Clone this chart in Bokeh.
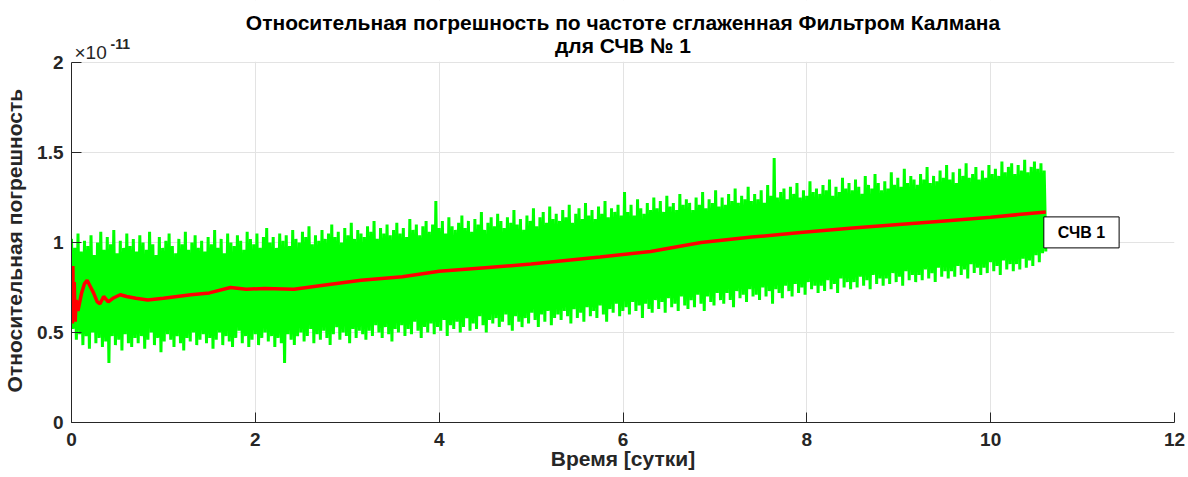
import numpy as np
from bokeh.plotting import figure
from bokeh.models import Range1d, FixedTicker, Label, BoxAnnotation
from bokeh.embed import file_html
from bokeh.resources import INLINE

# Raw relative frequency error (units of 1e-11): upper and lower swings of the measured signal
hi = [
    1.02, 0.97, 1.05, 0.95, 1.01, 0.98, 1.04, 0.93, 1.00, 1.06,
    0.96, 1.03, 0.99, 1.07, 0.94, 1.01, 0.97, 1.05, 0.98, 1.02,
    0.95, 1.04, 1.00, 0.96, 1.06, 0.99, 0.93, 1.03, 0.97, 1.01,
    1.05, 0.98, 0.94, 1.02, 0.99, 1.06, 0.96, 1.00, 1.04, 0.97,
    1.01, 0.95, 1.03, 0.99, 1.07, 0.97, 1.02, 0.94, 1.05, 1.00,
    0.98, 1.04, 1.01, 0.96, 1.06, 1.02, 0.99, 1.05, 0.97, 1.03,
    1.08, 1.00, 1.03, 0.97, 1.05, 1.01, 1.04, 0.98, 1.07, 1.02,
    1.00, 1.06, 1.03, 1.09, 0.99, 1.04, 1.01, 1.07, 1.02, 1.05,
    1.10, 1.03, 1.06, 1.00, 1.08, 1.04, 1.11, 1.02, 1.07, 1.05,
    1.03, 1.09, 1.06, 1.12, 1.02, 1.08, 1.05, 1.10, 1.04, 1.07,
    1.11, 1.05, 1.08, 1.03, 1.13, 1.07, 1.10, 1.04, 1.09, 1.12,
    1.06, 1.10, 1.23, 1.08, 1.12, 1.05, 1.14, 1.09, 1.07, 1.11,
    1.15, 1.08, 1.12, 1.06, 1.13, 1.10, 1.17, 1.07, 1.11, 1.14,
    1.09, 1.16, 1.12, 1.08, 1.14, 1.11, 1.18, 1.10, 1.13, 1.07,
    1.15, 1.12, 1.19, 1.09, 1.14, 1.17, 1.11, 1.20, 1.13, 1.16,
    1.12, 1.18, 1.14, 1.21, 1.11, 1.16, 1.19, 1.13, 1.22, 1.15,
    1.18, 1.13, 1.20, 1.16, 1.23, 1.14, 1.19, 1.17, 1.21, 1.15,
    1.28, 1.17, 1.21, 1.15, 1.24, 1.19, 1.16, 1.22, 1.18, 1.25,
    1.19, 1.23, 1.17, 1.26, 1.20, 1.22, 1.18, 1.27, 1.21, 1.24,
    1.22, 1.18, 1.25, 1.21, 1.28, 1.19, 1.24, 1.22, 1.29, 1.20,
    1.25, 1.21, 1.27, 1.23, 1.30, 1.22, 1.26, 1.24, 1.31, 1.23,
    1.27, 1.24, 1.29, 1.22, 1.32, 1.26, 1.47, 1.25, 1.28, 1.30,
    1.24, 1.31, 1.27, 1.33, 1.25, 1.29, 1.26, 1.34, 1.28, 1.30,
    1.27, 1.32, 1.29, 1.35, 1.26, 1.31, 1.28, 1.36, 1.30, 1.33,
    1.29, 1.35, 1.31, 1.27, 1.37, 1.32, 1.30, 1.38, 1.33, 1.29,
    1.34, 1.30, 1.39, 1.32, 1.36, 1.31, 1.41, 1.33, 1.37, 1.35,
    1.32, 1.38, 1.35, 1.42, 1.33, 1.37, 1.34, 1.40, 1.36, 1.43,
    1.35, 1.39, 1.33, 1.41, 1.37, 1.44, 1.36, 1.38, 1.42, 1.35,
    1.40, 1.36, 1.43, 1.38, 1.41, 1.37, 1.45, 1.39, 1.42, 1.44,
    1.38, 1.43, 1.40, 1.46, 1.39, 1.42, 1.45, 1.41, 1.44, 1.40,
]
lo = [
    0.52, 0.46, 0.49, 0.43, 0.48, 0.41, 0.50, 0.44, 0.47, 0.42,
    0.45, 0.33, 0.48, 0.43, 0.46, 0.40, 0.49, 0.44, 0.42, 0.47,
    0.44, 0.48, 0.41, 0.46, 0.50, 0.43, 0.47, 0.39, 0.45, 0.49,
    0.46, 0.42, 0.48, 0.44, 0.40, 0.47, 0.45, 0.50, 0.43, 0.46,
    0.49, 0.44, 0.47, 0.41, 0.46, 0.50, 0.43, 0.48, 0.45, 0.42,
    0.47, 0.51, 0.44, 0.48, 0.42, 0.46, 0.49, 0.43, 0.47, 0.50,
    0.45, 0.48, 0.42, 0.47, 0.44, 0.33, 0.49, 0.46, 0.43, 0.48,
    0.50, 0.45, 0.48, 0.52, 0.44, 0.49, 0.46, 0.51, 0.47, 0.43,
    0.49, 0.53, 0.46, 0.50, 0.48, 0.44, 0.52, 0.47, 0.51, 0.49,
    0.46, 0.51, 0.48, 0.54, 0.50, 0.47, 0.53, 0.49, 0.45, 0.52,
    0.50, 0.54, 0.48, 0.52, 0.49, 0.56, 0.51, 0.47, 0.53, 0.50,
    0.55, 0.49, 0.53, 0.51, 0.57, 0.48, 0.54, 0.52, 0.56, 0.50,
    0.53, 0.58, 0.51, 0.55, 0.52, 0.59, 0.54, 0.50, 0.57, 0.55,
    0.58, 0.53, 0.56, 0.60, 0.54, 0.51, 0.59, 0.56, 0.53, 0.58,
    0.55, 0.61, 0.57, 0.53, 0.60, 0.56, 0.62, 0.54, 0.58, 0.60,
    0.57, 0.62, 0.59, 0.55, 0.63, 0.58, 0.61, 0.56, 0.64, 0.59,
    0.62, 0.58, 0.65, 0.60, 0.56, 0.63, 0.61, 0.66, 0.59, 0.62,
    0.64, 0.60, 0.67, 0.62, 0.65, 0.58, 0.66, 0.63, 0.61, 0.68,
    0.63, 0.67, 0.61, 0.69, 0.64, 0.66, 0.62, 0.70, 0.65, 0.63,
    0.68, 0.64, 0.71, 0.66, 0.62, 0.70, 0.67, 0.65, 0.72, 0.68,
    0.66, 0.72, 0.68, 0.64, 0.73, 0.69, 0.71, 0.67, 0.74, 0.70,
    0.71, 0.68, 0.75, 0.70, 0.73, 0.66, 0.74, 0.72, 0.69, 0.76,
    0.73, 0.70, 0.77, 0.72, 0.75, 0.71, 0.78, 0.74, 0.76, 0.72,
    0.76, 0.73, 0.79, 0.74, 0.77, 0.72, 0.80, 0.75, 0.78, 0.74,
    0.78, 0.75, 0.81, 0.76, 0.79, 0.74, 0.82, 0.77, 0.80, 0.76,
    0.80, 0.77, 0.83, 0.78, 0.81, 0.76, 0.84, 0.79, 0.82, 0.78,
    0.82, 0.79, 0.85, 0.80, 0.83, 0.78, 0.86, 0.81, 0.84, 0.80,
    0.84, 0.81, 0.87, 0.82, 0.85, 0.80, 0.88, 0.83, 0.86, 0.82,
    0.86, 0.83, 0.89, 0.84, 0.87, 0.82, 0.90, 0.85, 0.88, 0.84,
    0.88, 0.85, 0.91, 0.86, 0.90, 0.87, 0.93, 0.89, 0.94, 0.95,
]
t_end = 10.6  # days of observation

# Kalman-smoothed estimate (units of 1e-11)
kf_t = [0.0, 0.005, 0.01, 0.015, 0.02, 0.03, 0.04, 0.05, 0.07, 0.09,
        0.11, 0.14, 0.17, 0.20, 0.24, 0.28, 0.31, 0.35, 0.40, 0.45,
        0.53, 0.6, 0.7, 0.83, 1.0, 1.15, 1.3, 1.5, 1.73, 1.9,
        2.1, 2.42, 2.7, 3.15, 3.6, 4.0, 4.5, 5.0, 5.75, 6.3,
        6.85, 7.4, 7.93, 8.5, 9.0, 9.5, 10.0, 10.3, 10.6]
kf_v = [0.62, 0.80, 0.55, 0.87, 0.60, 0.78, 0.56, 0.68, 0.62, 0.67,
        0.72, 0.77, 0.79, 0.76, 0.72, 0.67, 0.66, 0.70, 0.67, 0.69,
        0.71, 0.70, 0.69, 0.68, 0.69, 0.70, 0.71, 0.72, 0.75, 0.74,
        0.745, 0.74, 0.76, 0.79, 0.81, 0.84, 0.86, 0.88, 0.92, 0.95,
        1.00, 1.03, 1.055, 1.08, 1.10, 1.12, 1.14, 1.155, 1.17]

x_ticks = [0, 2, 4, 6, 8, 10, 12]
y_ticks = [0, 0.5, 1, 1.5, 2]
y_tick_labels = {0: "0", 0.5: "0.5", 1: "1", 1.5: "1.5", 2: "2"}
title_1 = "Относительная погрешность по частоте сглаженная Фильтром Калмана"
title_2 = "для СЧВ № 1"
x_title = "Время [сутки]"
y_title = "Относительная погрешность"

# interleave swings into one sampled trace
raw = np.empty(2 * len(hi))
raw[0::2] = hi
raw[1::2] = lo
raw_t = np.linspace(0, t_end, raw.size)

FONT = "Liberation Sans"
TXT = "#262626"

# axes span 0..2; the canvas strip above (titles, multiplier) lives in the same frame
Y_MAX = 2.0
PX_PER_UNIT = 180.0
Y_TOP = Y_MAX + 62 / PX_PER_UNIT

p = figure(width=1188, height=477, x_range=Range1d(0, 12), y_range=Range1d(0, Y_TOP),
           output_backend="svg", toolbar_location=None, title=None,
           min_border_left=71, min_border_right=14, min_border_top=0, min_border_bottom=55)
p.outline_line_color = None
p.background_fill_color = "white"
xax = p.below[0]
yax = p.left[0]

p.line(raw_t, raw, line_color="#00ff00", line_width=3)
p.line(kf_t, kf_v, line_color="#ff0000", line_width=3.5)

for ax in (xax, yax):
    ax.major_tick_in = 10
    ax.major_tick_out = 0
    ax.minor_tick_in = 0
    ax.minor_tick_out = 0
    ax.axis_line_color = TXT
    ax.major_tick_line_color = TXT
    ax.major_label_text_font = FONT
    ax.major_label_text_font_style = "bold"
    ax.major_label_text_font_size = "19px"
    ax.major_label_text_color = TXT
    ax.axis_label_text_font = FONT
    ax.axis_label_text_font_style = "bold"
    ax.axis_label_text_font_size = "21px"
    ax.axis_label_text_color = TXT

yax.bounds = (0, Y_MAX)
xax.ticker = FixedTicker(ticks=x_ticks)
yax.ticker = FixedTicker(ticks=y_ticks)
yax.major_label_overrides = y_tick_labels
xax.axis_label = x_title
# trailing no-break spaces keep the rotated label centred on the 0..2 span
yax.axis_label = y_title + "\u00a0" * 10
xax.major_label_standoff = 10
yax.major_label_standoff = 8
xax.axis_label_standoff = -2
yax.axis_label_standoff = 8

p.xgrid.ticker = FixedTicker(ticks=x_ticks)
p.ygrid.ticker = FixedTicker(ticks=y_ticks)
p.grid.grid_line_color = "#e3e3e3"
p.grid.grid_line_width = 1

# blank the strip above the axes so the vertical grid stops at the top gridline
p.add_layout(BoxAnnotation(bottom=Y_MAX + 0.004, fill_color="white", fill_alpha=1.0,
                           line_color=None, level="underlay"))

# two-line title
p.add_layout(Label(x=6, y=Y_MAX, y_offset=40, text=title_1, text_font=FONT,
                   text_font_size="21px", text_font_style="bold", text_color="black",
                   text_align="center", text_baseline="middle"))
p.add_layout(Label(x=6, y=Y_MAX, y_offset=17, text=title_2, text_font=FONT,
                   text_font_size="21px", text_font_style="bold", text_color="black",
                   text_align="center", text_baseline="middle"))

# y multiplier
p.add_layout(Label(x=0, y=Y_MAX, x_offset=3, y_offset=10, text="×10", text_font=FONT,
                   text_font_size="19px", text_color=TXT, text_baseline="alphabetic"))
p.add_layout(Label(x=0, y=Y_MAX, x_offset=39, y_offset=19, text="-11", text_font=FONT,
                   text_font_size="14px", text_font_style="bold", text_color=TXT,
                   text_baseline="alphabetic"))

# series tag at the end of the smoothed curve
p.add_layout(Label(x=kf_t[-1], y=kf_v[-1], x_offset=-2, y_offset=-5, text="СЧВ 1",
                   text_font=FONT, text_font_size="16px", text_font_style="bold",
                   text_color="black", anchor="top_left", padding=(14, 7),
                   background_fill_color="white", border_line_color="black",
                   border_line_width=1))

open("out.html", "w").write(file_html(p, INLINE))
